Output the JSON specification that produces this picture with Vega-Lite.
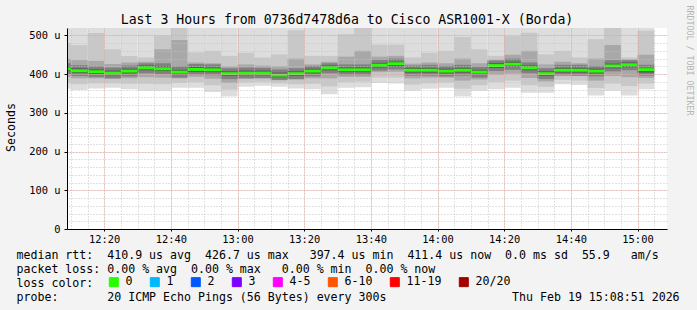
{
  "$schema": "https://vega.github.io/schema/vega-lite/v6.json",
  "width": 600,
  "height": 201,
  "autosize": {"type": "none"},
  "padding": {"left": 67, "top": 28, "right": 30, "bottom": 81},
  "background": "#f3f3f3",
  "config": {
    "font": "DejaVu Sans Mono",
    "view": {"fill": "#ffffff", "stroke": null}
  },
  "data": {"values": [
    {"t":"2026-02-19T12:05:00","te":"2026-02-19T12:10:00","mn":362,"l2":377,"l3":393,"l4":400,"l5":408,"med":413.6,"h5":420,"h4":428,"h3":440,"h2":480,"mx":530,"loss":"0"},
    {"t":"2026-02-19T12:10:00","te":"2026-02-19T12:15:00","mn":359,"l2":374,"l3":389,"l4":395,"l5":403,"med":408.5,"h5":415,"h4":423,"h3":436,"h2":475,"mx":530,"loss":"0"},
    {"t":"2026-02-19T12:15:00","te":"2026-02-19T12:20:00","mn":363,"l2":376,"l3":389,"l4":392,"l5":400,"med":406,"h5":412,"h4":420,"h3":434,"h2":506,"mx":530,"loss":"0"},
    {"t":"2026-02-19T12:20:00","te":"2026-02-19T12:25:00","mn":365,"l2":376,"l3":388,"l4":389,"l5":397,"med":402.6,"h5":409,"h4":417,"h3":426,"h2":464,"mx":530,"loss":"0"},
    {"t":"2026-02-19T12:25:00","te":"2026-02-19T12:30:00","mn":361,"l2":375,"l3":389,"l4":394,"l5":402,"med":407.7,"h5":414,"h4":422,"h3":430,"h2":447,"mx":530,"loss":"0"},
    {"t":"2026-02-19T12:30:00","te":"2026-02-19T12:35:00","mn":357,"l2":375,"l3":392,"l4":402,"l5":410,"med":416,"h5":422,"h4":428,"h3":432,"h2":443,"mx":530,"loss":"0"},
    {"t":"2026-02-19T12:35:00","te":"2026-02-19T12:40:00","mn":357,"l2":374,"l3":391,"l4":400,"l5":408,"med":413.6,"h5":420,"h4":428,"h3":464,"h2":499,"mx":530,"loss":"0"},
    {"t":"2026-02-19T12:40:00","te":"2026-02-19T12:45:00","mn":365,"l2":377,"l3":389,"l4":391,"l5":399,"med":405,"h5":411,"h4":420,"h3":488,"h2":522,"mx":530,"loss":"0"},
    {"t":"2026-02-19T12:45:00","te":"2026-02-19T12:50:00","mn":365,"l2":379,"l3":393,"l4":398,"l5":406,"med":412,"h5":418,"h4":426,"h3":430,"h2":456,"mx":530,"loss":"0"},
    {"t":"2026-02-19T12:50:00","te":"2026-02-19T12:55:00","mn":354,"l2":371,"l3":388,"l4":397,"l5":405,"med":411,"h5":417,"h4":425,"h3":428,"h2":460,"mx":530,"loss":"0"},
    {"t":"2026-02-19T12:55:00","te":"2026-02-19T13:00:00","mn":342,"l2":360,"l3":377,"l4":387,"l5":395,"med":401,"h5":407,"h4":415,"h3":420,"h2":447,"mx":530,"loss":"0"},
    {"t":"2026-02-19T13:00:00","te":"2026-02-19T13:05:00","mn":367,"l2":378,"l3":388,"l4":389,"l5":397,"med":402.6,"h5":409,"h4":417,"h3":425,"h2":455,"mx":530,"loss":"0"},
    {"t":"2026-02-19T13:05:00","te":"2026-02-19T13:10:00","mn":370,"l2":380,"l3":388,"l4":390,"l5":397,"med":402.6,"h5":409,"h4":416,"h3":422,"h2":443,"mx":530,"loss":"0"},
    {"t":"2026-02-19T13:10:00","te":"2026-02-19T13:15:00","mn":367,"l2":376,"l3":384,"l4":385,"l5":392,"med":397.4,"h5":404,"h4":412,"h3":420,"h2":451,"mx":530,"loss":"0"},
    {"t":"2026-02-19T13:15:00","te":"2026-02-19T13:20:00","mn":363,"l2":374,"l3":386,"l4":387,"l5":395,"med":401,"h5":407,"h4":415,"h3":440,"h2":513,"mx":530,"loss":"0"},
    {"t":"2026-02-19T13:20:00","te":"2026-02-19T13:25:00","mn":361,"l2":375,"l3":389,"l4":394,"l5":402,"med":407.7,"h5":414,"h4":421,"h3":425,"h2":447,"mx":530,"loss":"0"},
    {"t":"2026-02-19T13:25:00","te":"2026-02-19T13:30:00","mn":348,"l2":368,"l3":389,"l4":402,"l5":410,"med":416,"h5":422,"h4":428,"h3":432,"h2":447,"mx":530,"loss":"0"},
    {"t":"2026-02-19T13:30:00","te":"2026-02-19T13:35:00","mn":365,"l2":379,"l3":393,"l4":397,"l5":405,"med":411,"h5":417,"h4":425,"h3":445,"h2":503,"mx":530,"loss":"0"},
    {"t":"2026-02-19T13:35:00","te":"2026-02-19T13:40:00","mn":366,"l2":380,"l3":393,"l4":397,"l5":405,"med":411,"h5":417,"h4":425,"h3":460,"h2":522,"mx":530,"loss":"0"},
    {"t":"2026-02-19T13:40:00","te":"2026-02-19T13:45:00","mn":377,"l2":391,"l3":405,"l4":409,"l5":417,"med":423,"h5":429,"h4":437,"h3":445,"h2":476,"mx":530,"loss":"0"},
    {"t":"2026-02-19T13:45:00","te":"2026-02-19T13:50:00","mn":376,"l2":391,"l3":406,"l4":412,"l5":420,"med":426.7,"h5":432,"h4":440,"h3":447,"h2":476,"mx":530,"loss":"0"},
    {"t":"2026-02-19T13:50:00","te":"2026-02-19T13:55:00","mn":357,"l2":373,"l3":389,"l4":396,"l5":404,"med":410,"h5":416,"h4":422,"h3":427,"h2":443,"mx":530,"loss":"0"},
    {"t":"2026-02-19T13:55:00","te":"2026-02-19T14:00:00","mn":362,"l2":376,"l3":391,"l4":396,"l5":404,"med":410,"h5":416,"h4":424,"h3":430,"h2":455,"mx":530,"loss":"0"},
    {"t":"2026-02-19T14:00:00","te":"2026-02-19T14:05:00","mn":365,"l2":378,"l3":391,"l4":394,"l5":402,"med":407.7,"h5":414,"h4":421,"h3":428,"h2":460,"mx":530,"loss":"0"},
    {"t":"2026-02-19T14:05:00","te":"2026-02-19T14:10:00","mn":342,"l2":362,"l3":383,"l4":396,"l5":404,"med":410,"h5":416,"h4":424,"h3":440,"h2":496,"mx":530,"loss":"0"},
    {"t":"2026-02-19T14:10:00","te":"2026-02-19T14:15:00","mn":357,"l2":371,"l3":386,"l4":391,"l5":399,"med":405,"h5":411,"h4":419,"h3":428,"h2":464,"mx":530,"loss":"0"},
    {"t":"2026-02-19T14:15:00","te":"2026-02-19T14:20:00","mn":361,"l2":379,"l3":398,"l4":408,"l5":416,"med":422,"h5":428,"h4":435,"h3":437,"h2":447,"mx":530,"loss":"0"},
    {"t":"2026-02-19T14:20:00","te":"2026-02-19T14:25:00","mn":365,"l2":383,"l3":401,"l4":411,"l5":420,"med":425.6,"h5":432,"h4":440,"h3":450,"h2":498,"mx":530,"loss":"0"},
    {"t":"2026-02-19T14:25:00","te":"2026-02-19T14:30:00","mn":352,"l2":371,"l3":390,"l4":402,"l5":410,"med":416,"h5":422,"h4":430,"h3":460,"h2":507,"mx":530,"loss":"0"},
    {"t":"2026-02-19T14:30:00","te":"2026-02-19T14:35:00","mn":352,"l2":367,"l3":381,"l4":387,"l5":395,"med":401,"h5":407,"h4":415,"h3":425,"h2":451,"mx":530,"loss":"0"},
    {"t":"2026-02-19T14:35:00","te":"2026-02-19T14:40:00","mn":374,"l2":385,"l3":395,"l4":397,"l5":404,"med":410,"h5":416,"h4":424,"h3":432,"h2":460,"mx":530,"loss":"0"},
    {"t":"2026-02-19T14:40:00","te":"2026-02-19T14:45:00","mn":372,"l2":383,"l3":395,"l4":396,"l5":404,"med":410,"h5":416,"h4":424,"h3":428,"h2":443,"mx":530,"loss":"0"},
    {"t":"2026-02-19T14:45:00","te":"2026-02-19T14:50:00","mn":345,"l2":364,"l3":383,"l4":394,"l5":402,"med":407.7,"h5":414,"h4":421,"h3":440,"h2":490,"mx":530,"loss":"0"},
    {"t":"2026-02-19T14:50:00","te":"2026-02-19T14:55:00","mn":357,"l2":376,"l3":395,"l4":407,"l5":415,"med":421,"h5":427,"h4":436,"h3":475,"h2":522,"mx":530,"loss":"0"},
    {"t":"2026-02-19T14:55:00","te":"2026-02-19T15:00:00","mn":345,"l2":369,"l3":392,"l4":410,"l5":418,"med":424,"h5":430,"h4":436,"h3":438,"h2":443,"mx":530,"loss":"0"},
    {"t":"2026-02-19T15:00:00","te":"2026-02-19T15:05:00","mn":361,"l2":376,"l3":390,"l4":396,"l5":404,"med":411.4,"h5":416,"h4":424,"h3":450,"h2":512,"mx":530,"loss":"0"}
  ]},
  "resolve": {"axis": {"x": "independent", "y": "independent"}},
  "layer": [
    {
      "mark": {"type": "rect", "clip": true, "color": "#dddddd"},
      "encoding": {
        "x": {"field": "t", "type": "temporal",
          "scale": {"domain": [{"year": 2026, "month": 2, "date": 19, "hours": 12, "minutes": 8, "seconds": 51}, {"year": 2026, "month": 2, "date": 19, "hours": 15, "minutes": 8, "seconds": 51}], "nice": false},
          "axis": {"orient": "bottom", "format": "%H:%M",
            "values": [
              {"year": 2026, "month": 2, "date": 19, "hours": 12, "minutes": 20},
              {"year": 2026, "month": 2, "date": 19, "hours": 12, "minutes": 40},
              {"year": 2026, "month": 2, "date": 19, "hours": 13, "minutes": 0},
              {"year": 2026, "month": 2, "date": 19, "hours": 13, "minutes": 20},
              {"year": 2026, "month": 2, "date": 19, "hours": 13, "minutes": 40},
              {"year": 2026, "month": 2, "date": 19, "hours": 14, "minutes": 0},
              {"year": 2026, "month": 2, "date": 19, "hours": 14, "minutes": 20},
              {"year": 2026, "month": 2, "date": 19, "hours": 14, "minutes": 40},
              {"year": 2026, "month": 2, "date": 19, "hours": 15, "minutes": 0}],
            "grid": true, "gridColor": "#e99a9a", "gridDash": [1, 2], "gridWidth": 1, "gridOpacity": 1,
            "domainColor": "#000000", "tickColor": "#000000", "tickSize": 2, "labelFontSize": 10.4, "labelColor": "#000000", "labelPadding": 3, "labelFont": "DejaVu Sans Mono",
            "title": ["median rtt:\u00a0\u00a0410.9 us avg\u00a0\u00a0426.7 us max\u00a0\u00a0\u00a0397.4 us min\u00a0\u00a0411.4 us now\u00a0\u00a00.0 ms sd\u00a0\u00a055.9\u00a0\u00a0\u00a0am/s", "packet loss: 0.00 % avg\u00a0\u00a00.00 % max\u00a0\u00a0\u00a00.00 % min\u00a0\u00a00.00 % now", "loss color:", "probe:\u00a0\u00a0\u00a0\u00a0\u00a0\u00a0\u00a020 ICMP Echo Pings (56 Bytes) every 300s\u00a0\u00a0\u00a0\u00a0\u00a0\u00a0\u00a0\u00a0\u00a0\u00a0\u00a0\u00a0\u00a0\u00a0\u00a0\u00a0\u00a0\u00a0Thu Feb 19 15:08:51 2026"],
            "titleFont": "DejaVu Sans Mono", "titleFontSize": 11.6, "titleFontWeight": "normal", "titleColor": "#000000",
            "titleAlign": "left", "titleAnchor": "start", "titleX": -51, "titleY": 29, "titleBaseline": "alphabetic", "titleLineHeight": 14, "zindex": 2}},
        "x2": {"field": "te"},
        "y": {"field": "mn", "type": "quantitative", "scale": {"domain": [0, 519], "nice": false, "zero": true},
          "axis": {"orient": "left", "values": [0, 100, 200, 300, 400, 500], "labelExpr": "datum.value == 0 ? '0' : datum.value + ' u'",
            "grid": true, "gridColor": "#e99a9a", "gridDash": [1, 2], "gridWidth": 1, "gridOpacity": 1,
            "domainColor": "#000000", "tickColor": "#000000", "tickSize": 3, "labelFontSize": 10.4, "labelColor": "#000000", "labelPadding": 4, "labelFont": "DejaVu Sans Mono",
            "title": "Seconds", "titleFont": "DejaVu Sans Mono", "titleFontSize": 11.6, "titleFontWeight": "normal", "titleColor": "#000000",
            "titleAngle": -90, "titleX": -56, "titleY": 99, "titleAlign": "center", "titleBaseline": "middle", "zindex": 2}},
        "y2": {"field": "mx"}
      }
    },
    {
      "mark": {"type": "rect", "clip": true, "color": "#c8c8c8"},
      "encoding": {
        "x": {"field": "t", "type": "temporal", "axis": null},
        "x2": {"field": "te"},
        "y": {"field": "l2", "type": "quantitative", "axis": null},
        "y2": {"field": "h2"}
      }
    },
    {
      "mark": {"type": "rect", "clip": true, "color": "#a8a8a8"},
      "encoding": {
        "x": {"field": "t", "type": "temporal", "axis": null},
        "x2": {"field": "te"},
        "y": {"field": "l3", "type": "quantitative", "axis": null},
        "y2": {"field": "h3"}
      }
    },
    {
      "mark": {"type": "rect", "clip": true, "color": "#808080"},
      "encoding": {
        "x": {"field": "t", "type": "temporal", "axis": null},
        "x2": {"field": "te"},
        "y": {"field": "l4", "type": "quantitative", "axis": null},
        "y2": {"field": "h4"}
      }
    },
    {
      "mark": {"type": "rect", "clip": true, "color": "#555555"},
      "encoding": {
        "x": {"field": "t", "type": "temporal", "axis": null},
        "x2": {"field": "te"},
        "y": {"field": "l5", "type": "quantitative", "axis": null},
        "y2": {"field": "h5"}
      }
    },
    {
      "mark": {"type": "rule", "clip": true, "strokeWidth": 3},
      "encoding": {
        "x": {"field": "t", "type": "temporal",
          "axis": {"orient": "top", "tickCount": 36, "grid": true, "gridColor": "#c4c4c4", "gridDash": [1, 2], "gridWidth": 1, "gridOpacity": 1,
            "labels": false, "ticks": false, "domain": false,
            "title": "Last 3 Hours from 0736d7478d6a to Cisco ASR1001-X (Borda)", "titleFont": "DejaVu Sans Mono", "titleFontSize": 13.2, "titleFontWeight": "normal", "titleColor": "#000000",
            "titleX": 279.5, "titleY": -5, "titleAlign": "center", "titleBaseline": "alphabetic", "zindex": 1}},
        "x2": {"field": "te"},
        "y": {"field": "med", "type": "quantitative",
          "axis": {"orient": "right", "values": [0, 20, 40, 60, 80, 100, 120, 140, 160, 180, 200, 220, 240, 260, 280, 300, 320, 340, 360, 380, 400, 420, 440, 460, 480, 500],
            "grid": true, "gridColor": "#c4c4c4", "gridDash": [1, 2], "gridWidth": 1, "gridOpacity": 1,
            "labels": false, "ticks": false, "domain": false,
            "title": "RRDTOOL / TOBI OETIKER", "titleFont": "DejaVu Sans Mono", "titleFontSize": 8.3, "titleFontWeight": "normal", "titleColor": "#b4b4b4",
            "titleAngle": 90, "titleX": 21, "titleY": -23, "titleAlign": "left", "titleBaseline": "middle", "titleLimit": 300, "zindex": 1}},
        "color": {"field": "loss", "type": "nominal",
          "scale": {"domain": ["0", "1", "2", "3", "4-5", "6-10", "11-19", "20/20"], "range": ["#26ff00", "#00b8ff", "#0059ff", "#7e00ff", "#ff00ff", "#ff5500", "#ff0000", "#a10000"]},
          "legend": {"orient": "none", "legendX": 41, "legendY": 248, "direction": "horizontal", "title": null, "padding": 0,
            "symbolType": "square", "symbolSize": 81, "symbolStrokeWidth": 1, "symbolStrokeColor": "#000000",
            "labelFont": "DejaVu Sans Mono", "labelFontSize": 11.6, "labelColor": "#000000", "labelOffset": 6, "columnPadding": 15,
            "encode": {"symbols": {"update": {"fill": {"scale": "color", "field": "value"}, "stroke": {"value": "#000000"}, "fillOpacity": {"value": 1}}}}}}
      }
    }
  ]
}
